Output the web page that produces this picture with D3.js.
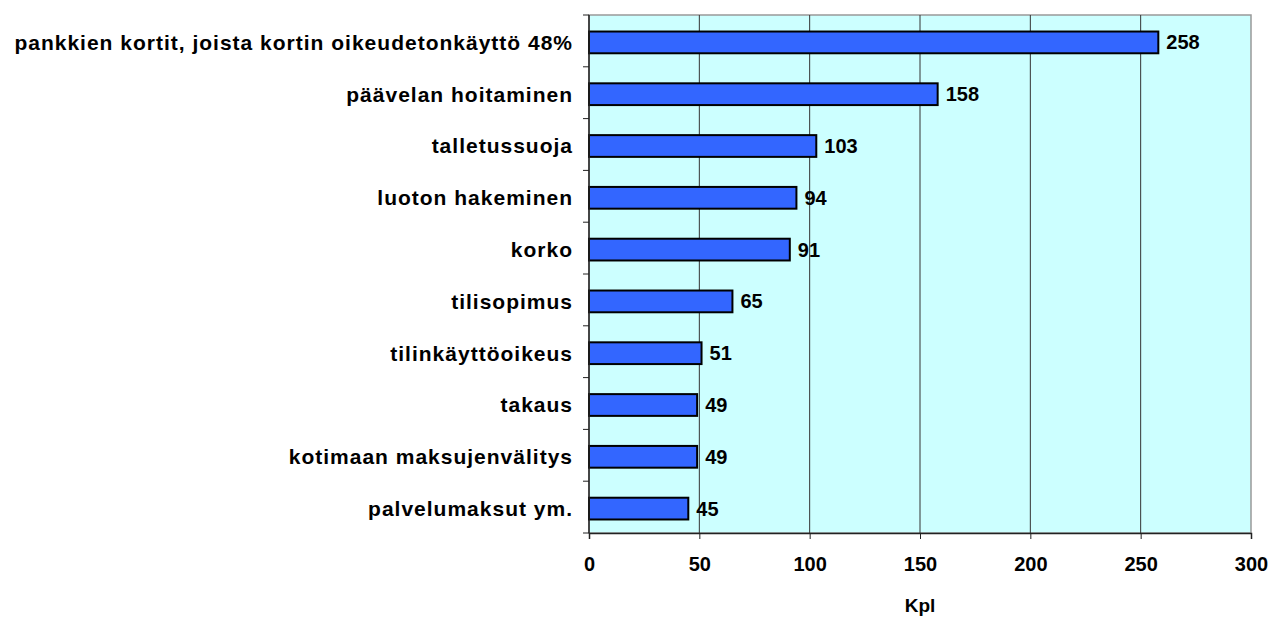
<!DOCTYPE html>
<html>
<head>
<meta charset="utf-8">
<script src="https://cdn.jsdelivr.net/npm/d3@7"></script>
<style>
  body { margin: 0; background: #fff; }
  text { font-family: "Liberation Sans", Arial, sans-serif; font-weight: bold; fill: #000; }
</style>
</head>
<body>
<div id="chart"></div>
<script>
var categories = [
  "pankkien kortit, joista kortin oikeudetonkäyttö 48%",
  "päävelan hoitaminen",
  "talletussuoja",
  "luoton hakeminen",
  "korko",
  "tilisopimus",
  "tilinkäyttöoikeus",
  "takaus",
  "kotimaan maksujenvälitys",
  "palvelumaksut ym."
];
var values = [258, 158, 103, 94, 91, 65, 51, 49, 49, 45];
var xTicks = [0, 50, 100, 150, 200, 250, 300];
var xTitle = "Kpl";

var margin = {top: 15, right: 20, bottom: 84, left: 589};
var width = 1251 - margin.left;
var height = 533 - margin.top;

var svg = d3.select("#chart")
  .append("svg")
  .attr("width", 1271)
  .attr("height", 617);

var g = svg.append("g")
  .attr("transform", "translate(" + margin.left + "," + margin.top + ")");

var xScale = d3.scaleLinear().domain([0, 300]).range([0, width]);
var yScale = d3.scaleBand().domain(categories).range([0, height]).paddingInner(0.58).paddingOuter(0.29);

// plot background
g.append("rect")
  .attr("width", width)
  .attr("height", height)
  .attr("fill", "#ccffff")
  .attr("stroke", "#999")
  .attr("stroke-width", 1.5);

// gridlines
g.selectAll(".grid")
  .data(xTicks.slice(1, -1))
  .enter().append("line")
  .attr("class", "grid")
  .attr("x1", function(d) { return xScale(d); })
  .attr("x2", function(d) { return xScale(d); })
  .attr("y1", 0)
  .attr("y2", height)
  .attr("stroke", "#333")
  .attr("stroke-width", 1);

// bars
g.selectAll(".bar")
  .data(values)
  .enter().append("rect")
  .attr("class", "bar")
  .attr("x", 0)
  .attr("y", function(d, i) { return yScale(categories[i]) + 1.5; })
  .attr("width", function(d) { return xScale(d); })
  .attr("height", yScale.bandwidth())
  .attr("fill", "#3366ff")
  .attr("stroke", "#000")
  .attr("stroke-width", 2);

// value labels
g.selectAll(".val")
  .data(values)
  .enter().append("text")
  .attr("class", "val")
  .attr("x", function(d) { return xScale(d) + 8; })
  .attr("y", function(d, i) { return yScale(categories[i]) + 1.5 + yScale.bandwidth() / 2; })
  .attr("dy", "0.35em")
  .style("font-size", "20px")
  .text(function(d) { return d; });

// x axis
var xAxis = g.append("g")
  .attr("transform", "translate(0," + height + ")")
  .call(d3.axisBottom(xScale).tickValues(xTicks).tickSize(6).tickPadding(18));
xAxis.select(".domain").attr("stroke", "#222").attr("stroke-width", 1.5);
xAxis.selectAll(".tick line").attr("stroke", "#222");
xAxis.selectAll("text").style("font-size", "20px").style("font-family", "Liberation Sans, Arial, sans-serif");

// y axis: ticks between categories
var yAxis = g.append("g");
yAxis.append("line")
  .attr("x1", 0).attr("x2", 0).attr("y1", 0).attr("y2", height)
  .attr("stroke", "#222").attr("stroke-width", 1.5);
var step = height / categories.length;
yAxis.selectAll(".ytick")
  .data(d3.range(categories.length + 1))
  .enter().append("line")
  .attr("x1", -6).attr("x2", 0)
  .attr("y1", function(d) { return d * step; })
  .attr("y2", function(d) { return d * step; })
  .attr("stroke", "#222");
yAxis.selectAll(".ylab")
  .data(categories)
  .enter().append("text")
  .attr("x", -16)
  .attr("y", function(d) { return yScale(d) + 1.5 + yScale.bandwidth() / 2; })
  .attr("dy", "0.35em")
  .attr("text-anchor", "end")
  .style("font-size", "21px")
  .style("letter-spacing", "1px")
  .text(function(d) { return d; });

// axis title
svg.append("text")
  .attr("x", margin.left + width / 2)
  .attr("y", 612)
  .attr("text-anchor", "middle")
  .style("font-size", "19px")
  .text(xTitle);
</script>
</body>
</html>
